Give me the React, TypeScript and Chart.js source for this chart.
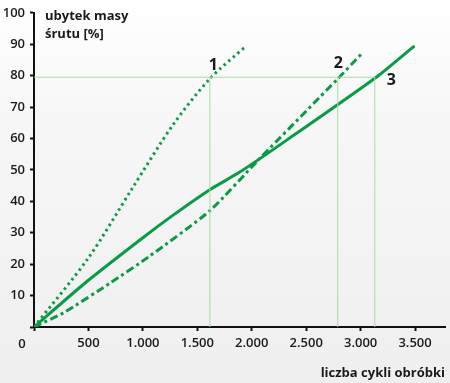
import React, { useEffect, useRef } from "react";
import { Chart, registerables } from "chart.js";

Chart.register(...registerables);

// Series data (cycles -> mass loss %)
const cycles1 = [0, 500, 900, 1280, 1615, 1950];
const mass1 = [0, 22, 44, 64.5, 79, 89.5];

const cycles2 = [0, 270, 700, 1060, 1615, 2070, 2790, 3010];
const mass2 = [0, 4.5, 14, 22.5, 37, 53.5, 79, 87];

const cycles3 = [0, 483, 1003, 1278, 1615, 1890, 2318, 3144, 3495];
const mass3 = [0, 14.4, 28.5, 35.6, 43.7, 49.3, 59.4, 79.5, 89.5];

// Reference lines: level and the cycle counts where each curve reaches it
const refLevel = 79.5;
const refCycles = [1615, 2790, 3130];

// Curve labels
const curveNames = ["1", "2", "3"];
const curveLabelX = [1646, 2795, 3282];
const curveLabelY = [83.2, 83.8, 78.4];

const xTicks = [0, 500, 1000, 1500, 2000, 2500, 3000, 3500];
const xMax = 3775;
const yTickStep = 10;

const GREEN = "#0c9a47";
const LIGHT = "#a9dba3";
const FONT = "'Open Sans', sans-serif";

const toPts = (xs: number[], ys: number[]) => xs.map((x, i) => ({ x, y: ys[i] }));

const fmt = (v: number) => {
  if (v === 0) return "";
  return String(v).replace(/\B(?=(\d{3})+(?!\d))/g, ".");
};

export default function App() {
  const ref = useRef<HTMLCanvasElement | null>(null);

  useEffect(() => {
    document.body.style.margin = "0";
    const canvas = ref.current!;
    const refDatasets: any[] = [
      {
        data: [
          { x: 0, y: refLevel },
          { x: refCycles[refCycles.length - 1], y: refLevel },
        ],
      },
      ...refCycles.map((c) => ({
        data: [
          { x: c, y: 0 },
          { x: c, y: refLevel },
        ],
      })),
    ].map((d) => ({
      ...d,
      borderColor: LIGHT,
      borderWidth: 1,
      pointRadius: 0,
      tension: 0,
    }));

    const textPlugin = {
      id: "texts",
      afterDraw(chart: any) {
        const ctx = chart.ctx;
        const xs = chart.scales.x;
        const ys = chart.scales.y;
        ctx.save();
        ctx.fillStyle = "#1a1a1a";
        ctx.textBaseline = "middle";
        // origin zero
        ctx.font = `600 13px ${FONT}`;
        ctx.textAlign = "center";
        ctx.fillText("0", 22, 344);
        // axis titles
        ctx.font = `bold 13px ${FONT}`;
        ctx.textAlign = "left";
        ctx.fillText("ubytek masy", 45, 16);
        ctx.fillText("śrutu [%]", 45, 34);
        ctx.textAlign = "right";
        ctx.fillText("liczba cykli obróbki", xs.right, 373);
        // curve labels
        ctx.font = `bold 16px ${FONT}`;
        ctx.textAlign = "center";
        curveNames.forEach((n, i) => {
          ctx.fillText(n, xs.getPixelForValue(curveLabelX[i]), ys.getPixelForValue(curveLabelY[i]));
        });
        ctx.restore();
      },
    };

    const chart = new Chart(canvas, {
      type: "line",
      data: {
        datasets: [
          ...refDatasets,
          {
            data: toPts(cycles1, mass1),
            borderColor: GREEN,
            borderWidth: 3,
            borderDash: [2.5, 3.5],
            pointRadius: 0,
            tension: 0.3,
          },
          {
            data: toPts(cycles2, mass2),
            borderColor: GREEN,
            borderWidth: 3,
            borderDash: [8, 3.5, 3, 3.5],
            pointRadius: 0,
            tension: 0.2,
          },
          {
            data: toPts(cycles3, mass3),
            borderColor: GREEN,
            borderWidth: 3,
            pointRadius: 0,
            tension: 0.2,
          },
        ],
      },
      options: {
        animation: false,
        responsive: false,
        layout: { padding: { left: 0, right: 5, top: 12, bottom: 0 } },
        plugins: { legend: { display: false }, tooltip: { enabled: false } },
        scales: {
          x: {
            type: "linear",
            min: 0,
            max: xMax,
            afterBuildTicks: (s: any) => {
              s.ticks = xTicks.map((v) => ({ value: v }));
            },
            afterFit: (s: any) => {
              s.height = 56;
            },
            border: { color: "#111", width: 2 },
            grid: {
              drawOnChartArea: false,
              drawTicks: true,
              tickLength: 4,
              tickWidth: 2,
              tickColor: "#111",
            },
            ticks: {
              maxRotation: 0,
              autoSkip: false,
              padding: 4,
              color: "#1a1a1a",
              font: { family: FONT, size: 13, weight: 600 },
              callback: (v: any) => fmt(Number(v)),
            },
          },
          y: {
            min: 0,
            max: 100,
            afterFit: (s: any) => {
              s.width = 34;
            },
            border: { color: "#111", width: 2 },
            grid: {
              drawOnChartArea: false,
              drawTicks: true,
              tickLength: 4,
              tickWidth: 2,
              tickColor: "#111",
            },
            ticks: {
              stepSize: yTickStep,
              padding: 5,
              color: "#1a1a1a",
              font: { family: FONT, size: 13, weight: 600 },
              callback: (v: any) => (Number(v) === 0 ? "" : String(v)),
            },
          },
        },
      },
      plugins: [textPlugin],
    });
    return () => chart.destroy();
  }, []);

  return (
    <div
      style={{
        width: 450,
        height: 383,
        background: "linear-gradient(#ffffff, #f7f7f7 30%, #efefef)",
      }}
    >
      <canvas ref={ref} width={450} height={383} style={{ display: "block" }} />
    </div>
  );
}
